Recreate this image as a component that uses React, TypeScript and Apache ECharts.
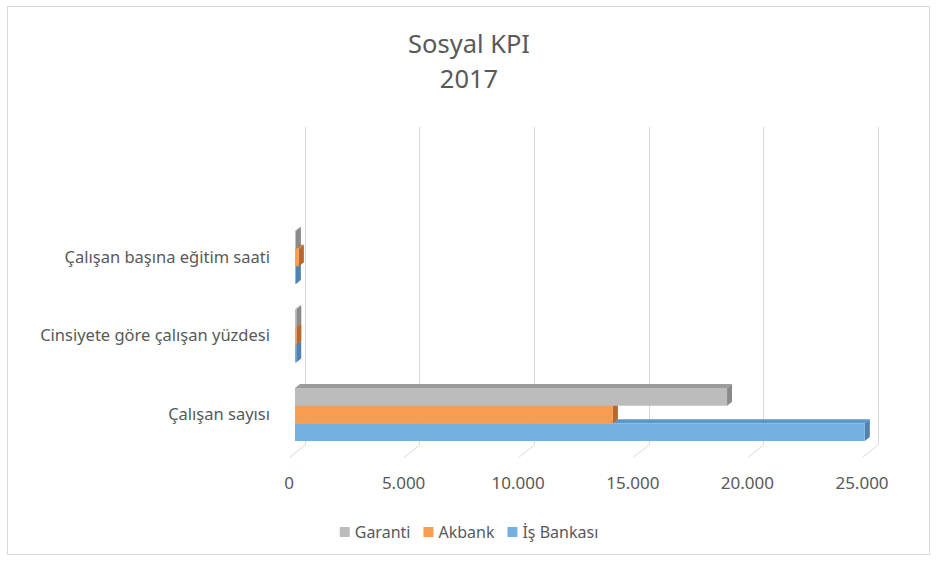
import React, { useEffect, useRef } from "react";
import * as echarts from "echarts";

const categories = ["Çalışan sayısı", "Cinsiyete göre çalışan yüzdesi", "Çalışan başına eğitim saati"];
const isBankasi = [24860, 53, 38];
const akbank = [13870, 60, 170];
const garanti = [18850, 57, 40];
const xTicks = [0, 5000, 10000, 15000, 20000, 25000];
const titleLines = ["Sosyal KPI", "2017"];
const legendNames = ["Garanti", "Akbank", "İş Bankası"];

const FONT = "Noto Sans";
const TXT = "#595959";

const seriesDefs = [
  { name: "İş Bankası", data: isBankasi, slot: 0, front: "#74B1E0", top: "#5D97C6", side: "#4F82AE" },
  { name: "Akbank", data: akbank, slot: 1, front: "#F79C50", top: "#CF7A3E", side: "#B8682E" },
  { name: "Garanti", data: garanti, slot: 2, front: "#BCBCBC", top: "#9C9C9C", side: "#8A8A8A" },
];

const fmt = (v: number) => (v === 0 ? "0" : String(v).replace(/\B(?=(\d{3})+(?!\d))/g, "."));

export default function App() {
  const ref = useRef<HTMLDivElement>(null);
  useEffect(() => {
    document.body.style.margin = "0";
    if (!ref.current) return;
    const chart = echarts.init(ref.current, undefined, { renderer: "svg" });
    const DX = 5;
    const DY = -4;
    const barSeries = seriesDefs.map((s) => ({
      type: "custom",
      name: s.name,
      xAxisIndex: 0,
      yAxisIndex: 0,
      clip: false,
      itemStyle: { color: s.front },
      data: s.data.map((v, i) => [v, i]),
      encode: { x: 0, y: 1 },
      renderItem: (params: any, api: any) => {
        const v = api.value(0);
        const c = api.value(1);
        const start = api.coord([0, c]);
        const end = api.coord([v, c]);
        const band = api.size([0, 1])[1];
        const h = band * 0.225;
        const bottom = start[1] + 1.5 * h + 1.5;
        const y1 = bottom - s.slot * h;
        const y0 = y1 - h;
        const x0 = start[0];
        const x1 = Math.max(end[0], x0 + 0.5);
        return {
          type: "group",
          children: [
            {
              type: "polygon",
              shape: { points: [[x0, y0], [x0 + DX, y0 + DY], [x1 + DX, y0 + DY], [x1, y0]] },
              style: { fill: s.top },
            },
            {
              type: "polygon",
              shape: { points: [[x1, y0], [x1 + DX, y0 + DY], [x1 + DX, y1 + DY], [x1, y1]] },
              style: { fill: s.side },
            },
            {
              type: "rect",
              shape: { x: x0, y: y0, width: x1 - x0, height: h },
              style: { fill: s.front },
            },
          ],
        };
      },
    }));

    const option: any = {
      animation: false,
      backgroundColor: "#ffffff",
      textStyle: { fontFamily: FONT },
      title: {
        text: titleLines.join("\n"),
        left: "center",
        top: 20,
        textStyle: { fontFamily: FONT, fontSize: 25.5, fontWeight: "normal", color: TXT, lineHeight: 35 },
      },
      legend: {
        data: legendNames,
        top: 519,
        left: "center",
        icon: "rect",
        itemWidth: 10,
        itemHeight: 10,
        itemGap: 13,
        textStyle: { fontFamily: FONT, fontSize: 16, color: TXT },
      },
      graphic: [
        {
          type: "rect",
          shape: { x: 7.5, y: 6.5, width: 922, height: 548 },
          style: { fill: "none", stroke: "#D9D9D9", lineWidth: 1 },
          silent: true,
          z: -10,
        },
      ],
      grid: [
        { left: 295, width: 573, top: 216.75, height: 235.5 },
        { left: 305, width: 573, top: 127, height: 318 },
        { left: 289, width: 573, top: 127, height: 330 },
      ],
      xAxis: [
        {
          type: "value", gridIndex: 0, min: 0, max: 25000, interval: 5000,
          axisLine: { show: false }, axisTick: { show: false }, axisLabel: { show: false }, splitLine: { show: false },
        },
        {
          type: "value", gridIndex: 1, min: 0, max: 25000, interval: 5000,
          axisLine: { show: false }, axisTick: { show: false }, axisLabel: { show: false },
          splitLine: { show: true, lineStyle: { color: "#D9D9D9", width: 1 } },
        },
        {
          type: "value", gridIndex: 2, min: 0, max: 25000, interval: 5000,
          axisLine: { show: false }, axisTick: { show: false }, splitLine: { show: false },
          axisLabel: { show: true, margin: 17, fontSize: 17, color: TXT, fontFamily: FONT, formatter: fmt },
        },
      ],
      yAxis: [
        {
          type: "category", gridIndex: 0, data: categories,
          axisLine: { show: false }, axisTick: { show: false }, splitLine: { show: false },
          axisLabel: { margin: 25, fontSize: 16.5, color: TXT, fontFamily: FONT, padding: [12, 0, 0, 0] },
        },
        { type: "value", gridIndex: 1, min: 0, max: 1, show: false },
        { type: "value", gridIndex: 2, min: 0, max: 1, show: false },
      ],
      series: [
        {
          type: "custom",
          name: "floor",
          xAxisIndex: 1,
          yAxisIndex: 1,
          clip: false,
          silent: true,
          data: xTicks.map((v) => [v, 0]),
          encode: { x: 0, y: 1 },
          renderItem: (params: any, api: any) => {
            const p = api.coord([api.value(0), 0]);
            return {
              type: "line",
              shape: { x1: p[0], y1: p[1], x2: p[0] - 15, y2: p[1] + 12 },
              style: { stroke: "#D9D9D9", lineWidth: 1 },
            };
          },
        },
        ...barSeries,
      ],
    };
    chart.setOption(option);
    return () => chart.dispose();
  }, []);
  return <div ref={ref} style={{ width: 938, height: 563 }} />;
}
